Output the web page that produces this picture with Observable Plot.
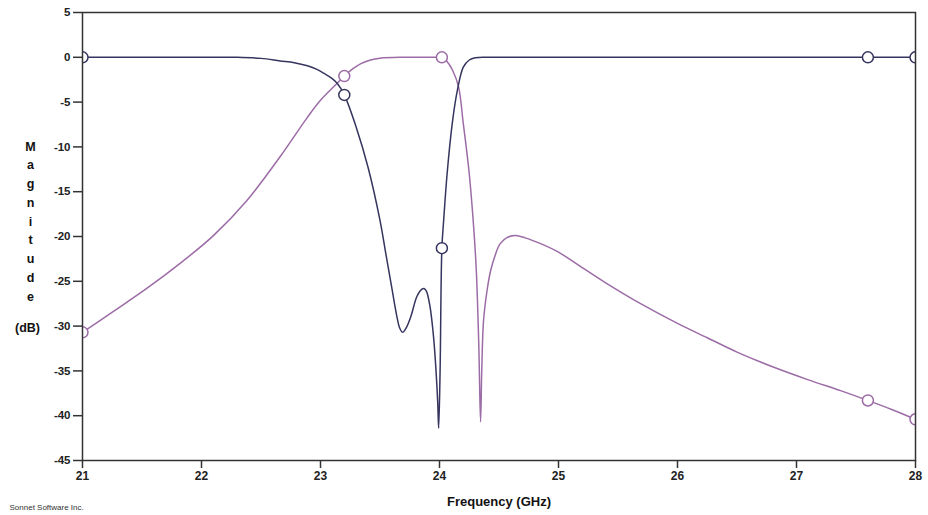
<!DOCTYPE html>
<html>
<head>
<meta charset="utf-8">
<script src="https://cdn.jsdelivr.net/npm/d3@7"></script>
<script src="https://cdn.jsdelivr.net/npm/@observablehq/plot@0.6"></script>
<style>
  html, body { margin: 0; padding: 0; background: #fff; }
  svg { display: block; }
</style>
</head>
<body>
<div id="chart"></div>
<script>
// ---- data ----
const xTicks = [21, 22, 23, 24, 25, 26, 27, 28];
const yTicks = [5, 0, -5, -10, -15, -20, -25, -30, -35, -40, -45];

// dark (navy) trace
const darkFreq = [21, 21.5, 22.0, 22.3, 22.5, 22.66, 22.78, 22.89, 22.97, 23.03, 23.09, 23.14, 23.2, 23.3, 23.4, 23.5, 23.55, 23.6, 23.64, 23.665, 23.69, 23.72, 23.76, 23.81, 23.85, 23.87, 23.89, 23.92, 23.95, 23.97, 23.985, 23.993, 24.005, 24.02, 24.035, 24.064, 24.107, 24.15, 24.2, 24.25, 24.3, 24.4, 24.6, 25, 26, 27, 28];
const darkDb   = [0, 0, 0, 0, -0.12, -0.4, -0.6, -0.95, -1.35, -1.8, -2.3, -2.9, -4.2, -7.8, -12.3, -18.2, -22.0, -25.8, -28.8, -30.2, -30.7, -30.2, -28.9, -26.7, -25.9, -25.8, -26.1, -27.8, -31.2, -34.8, -38.5, -41.4, -35.0, -21.3, -18.2, -13.0, -7.4, -3.7, -1.1, -0.3, -0.05, 0, 0, 0, 0, 0, 0];

// pink (mauve) trace
const pinkFreq = [21, 21.26, 21.54, 21.82, 22.1, 22.38, 22.66, 22.89, 23.0, 23.14, 23.2, 23.27, 23.34, 23.42, 23.5, 23.7, 24.0, 24.02, 24.06, 24.11, 24.16, 24.2, 24.25, 24.29, 24.31, 24.33, 24.345, 24.355, 24.37, 24.4, 24.43, 24.47, 24.51, 24.57, 24.64, 24.72, 24.85, 25.0, 25.18, 25.4, 25.69, 26.0, 26.25, 26.5, 26.81, 27.1, 27.37, 27.6, 27.8, 28];
const pinkDb   = [-30.7, -28.35, -25.8, -23.0, -19.9, -16.0, -11.1, -6.7, -4.8, -2.9, -2.1, -1.3, -0.7, -0.3, -0.1, 0, 0, 0, -0.4, -1.45, -3.3, -7.4, -13.0, -19.5, -24.0, -32.0, -40.7, -35.0, -29.4, -26.0, -23.8, -22.0, -20.8, -20.1, -19.9, -20.15, -20.8, -21.75, -23.3, -25.2, -27.5, -29.7, -31.3, -32.9, -34.6, -36.0, -37.2, -38.3, -39.3, -40.4];

// markers
const markerFreq = [21, 23.2, 24.02, 27.6, 28];
const darkMarkerDb = [0, -4.2, -21.3, 0, 0];
const pinkMarkerDb = [-30.7, -2.1, 0, -38.3, -40.4];

const xLabel = "Frequency (GHz)";
const yLabelWord = "Magnitude";
const yLabelUnit = "(dB)";
const credit = "Sonnet Software Inc.";

const darkColor = "#35355f";
const pinkColor = "#9c6ca6";

// ---- build tables ----
const dark = darkFreq.map((f, i) => ({f, v: darkDb[i]}));
const pink = pinkFreq.map((f, i) => ({f, v: pinkDb[i]}));
const darkM = markerFreq.map((f, i) => ({f, v: darkMarkerDb[i]}));
const pinkM = markerFreq.map((f, i) => ({f, v: pinkMarkerDb[i]}));

const font = "'Liberation Sans', Arial, Helvetica, sans-serif";

const chart = Plot.plot({
  width: 928,
  height: 515,
  marginLeft: 82,
  marginRight: 13,
  marginTop: 12,
  marginBottom: 55,
  style: {fontFamily: font, background: "#fff", color: "#222"},
  x: {domain: [21, 28]},
  y: {domain: [-45, 5]},
  marks: [
    Plot.line(pink, {x: "f", y: "v", stroke: pinkColor, strokeWidth: 1.5, curve: "catmull-rom", clip: true}),
    Plot.line(dark, {x: "f", y: "v", stroke: darkColor, strokeWidth: 1.5, curve: "catmull-rom", clip: true}),
    Plot.dot(pinkM, {x: "f", y: "v", r: 5.5, fill: "#fff", stroke: pinkColor, strokeWidth: 1.5, clip: true}),
    Plot.dot(darkM, {x: "f", y: "v", r: 5.5, fill: "#fff", stroke: darkColor, strokeWidth: 1.5, clip: true}),
    Plot.frame({stroke: "#333", strokeWidth: 1.5}),
    Plot.axisX({ticks: xTicks, tickFormat: d => String(d), tickSize: 8, tickPadding: 3, fontSize: 12, fontWeight: "bold", label: null, stroke: "#333", strokeWidth: 1.5}),
    Plot.axisY({ticks: yTicks, tickFormat: d => String(d), tickSize: 9, tickPadding: 3, fontSize: 11.5, fontWeight: "bold", label: null, stroke: "#333", strokeWidth: 1.5}),
    Plot.text([yLabelWord.split("").join("\n")], {frameAnchor: "top-left", dx: -52, dy: 207, lineAnchor: "middle", textAnchor: "middle", lineHeight: 1.5, fontSize: 12.5, fontWeight: "bold", fill: "#111"}),
    Plot.text([yLabelUnit], {frameAnchor: "top-left", dx: -55, dy: 315, lineAnchor: "middle", textAnchor: "middle", fontSize: 12.5, fontWeight: "bold", fill: "#111"}),
    Plot.text([xLabel], {frameAnchor: "bottom", dy: 41, lineAnchor: "middle", fontSize: 13, fontWeight: "bold", fill: "#111"}),
    Plot.text([credit], {frameAnchor: "bottom-left", dx: -73, dy: 47, lineAnchor: "middle", textAnchor: "start", fontSize: 8, fill: "#333"})
  ]
});
document.getElementById("chart").appendChild(chart);
</script>
</body>
</html>
